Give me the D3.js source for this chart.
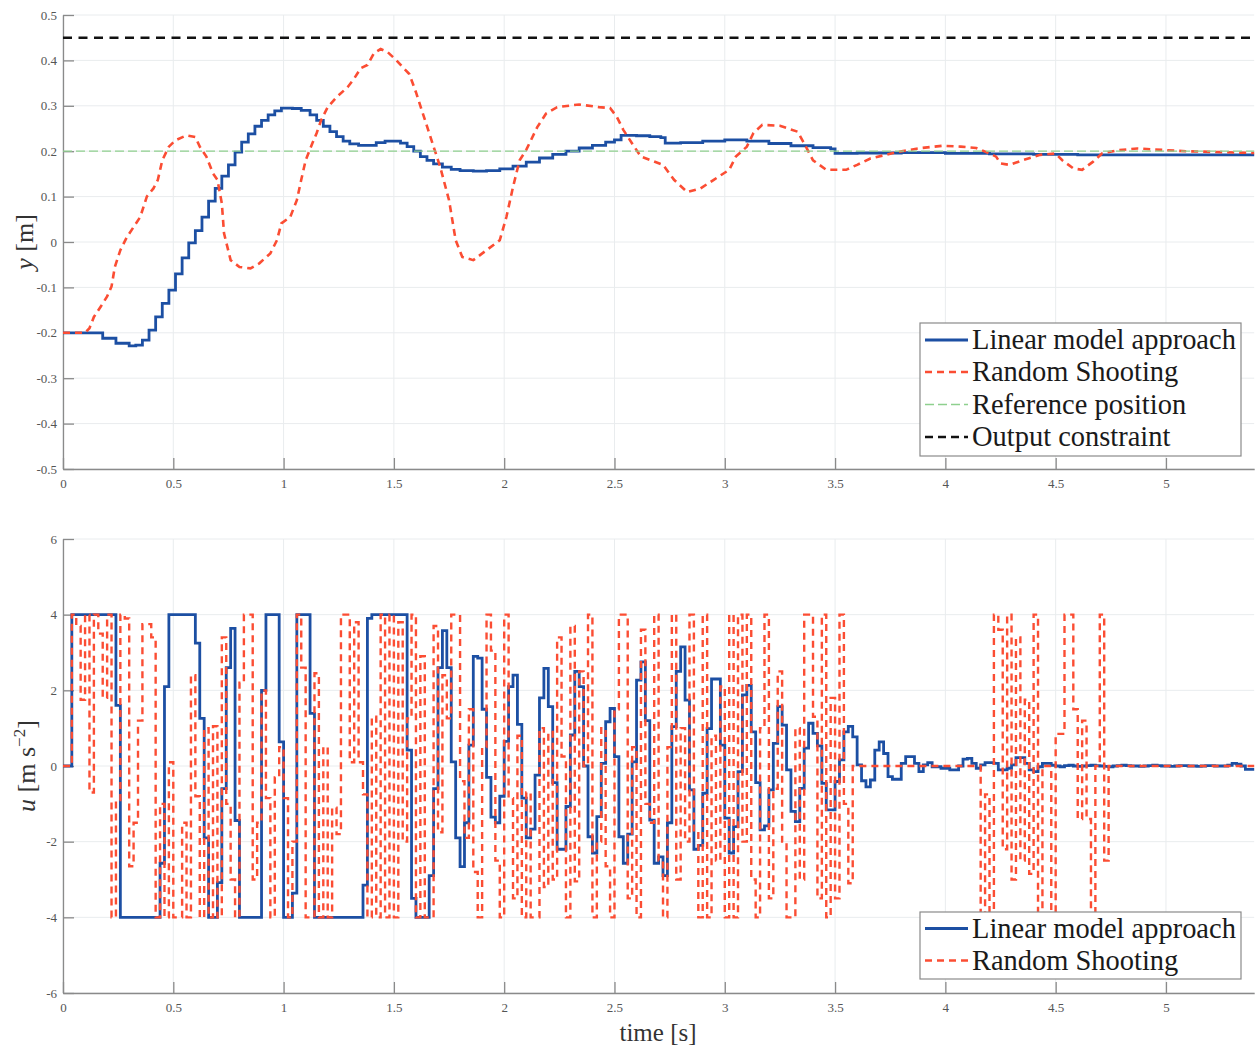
<!DOCTYPE html>
<html>
<head>
<meta charset="utf-8">
<script src="https://cdn.jsdelivr.net/npm/d3@7"></script>
<style>
  body { margin: 0; background: #ffffff; }
  svg { display: block; }
</style>
</head>
<body>
<svg id="chart" width="1257" height="1047"></svg>
<script>
// ---------------- DATA ----------------
// time axis
const xTicks = [0, 0.5, 1, 1.5, 2, 2.5, 3, 3.5, 4, 4.5, 5];
const xTickLabels = ["0", "0.5", "1", "1.5", "2", "2.5", "3", "3.5", "4", "4.5", "5"];
const tMax = 5.4;

// top subplot (output y)
const yTicks = [-0.5, -0.4, -0.3, -0.2, -0.1, 0, 0.1, 0.2, 0.3, 0.4, 0.5];
const yTickLabels = ["-0.5", "-0.4", "-0.3", "-0.2", "-0.1", "0", "0.1", "0.2", "0.3", "0.4", "0.5"];
const yReference = 0.2;
const yConstraint = 0.45;

// Linear model approach, y(t)
const yLinTime = [0, 0.06, 0.12, 0.18, 0.24, 0.30, 0.33, 0.36, 0.39, 0.42, 0.45, 0.48, 0.51, 0.54, 0.57,
  0.60, 0.63, 0.66, 0.69, 0.72, 0.75, 0.78, 0.81, 0.84, 0.87, 0.90, 0.93, 0.96, 0.99, 1.04, 1.08,
  1.12, 1.15, 1.18, 1.21, 1.24, 1.27, 1.30, 1.34, 1.38, 1.42, 1.46, 1.50, 1.53, 1.56, 1.59, 1.62,
  1.65, 1.68, 1.72, 1.76, 1.80, 1.86, 1.92, 1.98, 2.04, 2.10, 2.16, 2.22, 2.28, 2.34, 2.40, 2.46,
  2.50, 2.53, 2.60, 2.66, 2.71, 2.73, 2.80, 2.90, 3.00, 3.10, 3.20, 3.30, 3.40, 3.48, 3.50, 3.60,
  3.80, 4.00, 4.20, 4.40, 4.60, 5.40];
const yLinValue = [-0.2, -0.2, -0.2, -0.212, -0.223, -0.229, -0.227, -0.216, -0.194, -0.165, -0.135, -0.106, -0.07, -0.035, -0.002,
  0.025, 0.055, 0.09, 0.118, 0.145, 0.17, 0.198, 0.22, 0.238, 0.255, 0.268, 0.28, 0.289, 0.295, 0.294, 0.29,
  0.28, 0.268, 0.255, 0.243, 0.232, 0.222, 0.216, 0.213, 0.213, 0.219, 0.222, 0.222, 0.218, 0.21, 0.2, 0.188,
  0.18, 0.172, 0.165, 0.16, 0.157, 0.156, 0.157, 0.161, 0.167, 0.176, 0.185, 0.193, 0.2, 0.207, 0.213, 0.22,
  0.225, 0.235, 0.234, 0.232, 0.23, 0.218, 0.219, 0.222, 0.225, 0.222, 0.217, 0.212, 0.208, 0.205, 0.195, 0.196,
  0.197, 0.195, 0.194, 0.193, 0.192, 0.192];

// Random Shooting, y(t)
const yRsTime = [0, 0.1, 0.12, 0.14, 0.17, 0.2, 0.22, 0.235, 0.26, 0.29, 0.32, 0.35, 0.38, 0.41, 0.43, 0.45,
  0.48, 0.51, 0.56, 0.6, 0.62, 0.65, 0.68, 0.7, 0.72, 0.73, 0.76, 0.8, 0.85, 0.89, 0.94, 0.97, 0.99,
  1.03, 1.06, 1.08, 1.10, 1.13, 1.15, 1.17, 1.2, 1.24, 1.29, 1.32, 1.35, 1.38, 1.41, 1.44, 1.47, 1.51,
  1.54, 1.57, 1.60, 1.62, 1.66, 1.71, 1.75, 1.78, 1.81, 1.86, 1.92, 1.98, 2.01, 2.04, 2.07, 2.10, 2.15,
  2.19, 2.24, 2.34, 2.43, 2.48, 2.51, 2.54, 2.58, 2.62, 2.66, 2.72, 2.77, 2.83, 2.89, 2.95, 3.02, 3.05,
  3.10, 3.13, 3.17, 3.25, 3.33, 3.36, 3.40, 3.46, 3.55, 3.6, 3.66, 3.73, 3.79, 3.89, 3.99, 4.07, 4.14,
  4.2, 4.23, 4.25, 4.29, 4.35, 4.43, 4.5, 4.53, 4.58, 4.62, 4.67, 4.71, 4.78, 4.87, 4.94, 5.09, 5.4];
const yRsValue = [-0.2, -0.2, -0.19, -0.165, -0.143, -0.12, -0.098, -0.055, -0.018, 0.011, 0.033, 0.055, 0.1, 0.118, 0.137, 0.18,
  0.21, 0.224, 0.235, 0.231, 0.21, 0.188, 0.151, 0.137, 0.085, 0.019, -0.04, -0.055, -0.058, -0.047, -0.025, 0.004, 0.041,
  0.055, 0.092, 0.137, 0.18, 0.217, 0.24, 0.268, 0.297, 0.319, 0.341, 0.36, 0.383, 0.39, 0.416, 0.425, 0.419, 0.401,
  0.385, 0.37, 0.33, 0.3, 0.24, 0.165, 0.092, 0.004, -0.033, -0.04, -0.018, 0.004, 0.055, 0.121, 0.18, 0.203, 0.253,
  0.283, 0.297, 0.303, 0.297, 0.295, 0.276, 0.247, 0.217, 0.188, 0.181, 0.17, 0.137, 0.11, 0.118, 0.137, 0.159, 0.188,
  0.21, 0.24, 0.258, 0.256, 0.243, 0.217, 0.18, 0.159, 0.159, 0.17, 0.184, 0.192, 0.199, 0.207, 0.212, 0.21, 0.207,
  0.195, 0.188, 0.173, 0.17, 0.18, 0.192, 0.195, 0.18, 0.162, 0.159, 0.177, 0.195, 0.202, 0.206, 0.204, 0.2, 0.196];

// bottom subplot (input u), sampled every uStep seconds, held between samples
const uTicks = [-6, -4, -2, 0, 2, 4, 6];
const uTickLabels = ["-6", "-4", "-2", "0", "2", "4", "6"];
const uStep = 0.02;
const uLinear = [
  0, 0, 4, 4, 4, 4, 4, 4, 4, 4,
  4, 4, 1.6, -4, -4, -4, -4, -4, -4, -4,
  -4, -4, -2.57, 2.1, 4, 4, 4, 4, 4, 4,
  3.25, 1.26, -1.9, -4, -4, -3.08, -0.6, 2.6, 3.64, -1.44,
  -4, -4, -4, -4, -4, 2.0, 4, 4, 4, 0.64,
  -4, -4, -3.36, 4, 4, 4, 1.39, -4, -4, -4,
  -4, -4, -4, -4, -4, -4, -4, -4, -3.15, 3.9,
  4, 4, 4, 4, 4, 4, 4, 4, 0.42, -3.5,
  -4, -4, -4, -2.9, -0.6, 2.6, 3.58, 2.6, 0.11, -1.9,
  -2.66, -1.5, 0.55, 2.9, 2.85, 1.5, -0.3, -1.35, -1.5, -0.8,
  0.65, 2.1, 2.4, 1.1, -0.85, -1.9, -1.67, -0.24, 1.8, 2.58,
  1.57, -0.44, -2.2, -2.2, -1.07, 0.82, 2.5, 2.1, 0, -1.87,
  -2.3, -1.34, 0.07, 1.17, 1.52, 0.25, -1.87, -2.57, -1.8, 0.11,
  2.27, 2.75, 1.2, -1.43, -2.57, -2.4, -2.9, -1.5, 1.04, 2.5,
  3.15, 1.74, -0.63, -2.2, -2.1, -0.72, 0.99, 2.3, 2.3, 0.55,
  -1.38, -2.3, -1.6, -0.15, 1.88, 2.13, 0.9, -0.44, -1.69, -1.58,
  -0.63, 0.6, 1.57, 1.08, -0.1, -1.2, -1.47, -0.59, 0.47, 1.13,
  0.86, 0.53, -0.46, -1.16, -1.16, -0.41, 0.16, 0.9, 1.05, 0.77,
  0.03, -0.39, -0.55, -0.37, 0.42, 0.64, 0.33, -0.28, -0.35, -0.35,
  0.07, 0.25, 0.25, 0.07, -0.15, 0.03, 0.09, -0.02, -0.02, -0.06,
  -0.06, -0.1, -0.1, 0, 0.18, 0.2, 0.07, -0.06, 0.03, 0.09,
  0.09, 0.07, -0.1, -0.1, -0.06, 0.03, 0.22, 0.22, 0.07, -0.1,
  -0.15, -0.02, 0.07, 0.07, 0.02, 0, -0.02, 0.01, 0.02, 0,
  -0.01, 0, 0.01, 0.02, 0.01, 0, -0.01, -0.02, 0, 0.01,
  0.02, 0.01, 0, 0, -0.01, 0, 0.01, 0.02, 0.01, 0,
  0, -0.01, 0, 0.01, 0.01, 0, 0, -0.01, 0, 0.01,
  0.01, 0, 0, 0, 0.02, 0.07, 0.05, 0, -0.09, -0.09
];
const uRandom = [
  0, 0, 4, 3.7, 1.75, 4, -0.7, 4, 3.5, 1.8,
  4, -4, -0.9, 4, 3.9, -2.65, -1.5, 1.2, 3.75, 3.75,
  3.4, -4, -1.0, -4, 0.1, -4, -4, -1.5, -4, 2.4,
  -0.8, -4, 1.0, -4, 1.05, -4, 3.4, -1.0, -3.0, -4,
  2.2, 4, 4, -3.0, -1.5, 2.0, -0.85, -4, -0.3, 0.5,
  -0.85, -4, -2.0, 4, 2.6, -4, -4, 2.45, -4, 0.5,
  -4, -1.1, -1.8, 4, 4, 0.1, 3.8, 0.1, -0.75, -4,
  1.3, -4, 4, -4, 4, -4, 3.8, -2.0, 1.26, 4,
  -4, 2.9, -4, -4, 3.7, -1.75, 2.4, 1.26, 4, 4,
  -0.4, -1.9, 1.5, -2.8, -4, 0.5, 4, 3.05, -2.5, -4,
  4, -0.85, -3.5, 0.8, -4, -0.7, -4, -4, 1.0, -3.2,
  0.9, -3.0, 3.4, 0.25, -4, 3.7, -3.05, 2.5, 0, 4,
  -4, -2.0, 1.0, -2.65, -4, 1.5, 4, 4, -3.5, 0.5,
  -4, 3.6, -1.0, -1.5, 4, -2.5, -4, 0.5, 4, -3.0,
  1.0, -2.0, 4, -1.7, -4, 4, -4, 0.8, -2.5, 2.1,
  -4, 4, -4, 4, -2.0, 4, -3.0, -4, 1.0, 4,
  -3.5, -0.6, 2.5, -2.0, -4, -4, 1.0, -3.0, 4, 4,
  1.3, -3.5, 4, -4, 1.8, -3.5, 4, -1.0, -3.1, 0,
  0, 0, 0, 0, 0, 0, 0, 0, 0, 0,
  0, 0, 0, 0, 0, 0, 0, 0, 0, 0,
  0, 0, 0, 0, 0, 0, 0, 0, -4, -0.75,
  -4, 4, 3.6, -2.2, 4, -3.0, 3.4, -2.5, 1.75, -2.85,
  4, -4, 0, 0, -4, 0.85, 0.85, 4, 4, 1.5,
  -1.4, 1.2, -1.4, -4, 0, 4, -2.5, 0, 0, 0,
  0, 0, 0, 0, 0, 0, 0, 0, 0, 0,
  0, 0, 0, 0, 0, 0, 0, 0, 0, 0,
  0, 0, 0, 0, 0, 0, 0, 0, 0, 0
];

const seriesNames = ["Linear model approach", "Random Shooting", "Reference position", "Output constraint"];

// ---------------- LAYOUT / STYLE ----------------
const COL_BLUE = "#1c4fa3";
const COL_RED = "#fb4d33";
const COL_GREEN = "#8ed08e";
const COL_BLACK = "#111111";
const COL_AXIS = "#8a8a8a";
const COL_GRID = "#e9ecee";
const COL_TICKTXT = "#555555";
const FONT = "'Liberation Serif', 'DejaVu Serif', serif";

const svg = d3.select("#chart");
const plotLeft = 63, plotRight = 1254.2;
const x = d3.scaleLinear().domain([0, tMax]).range([plotLeft, plotRight]);
const yTop = d3.scaleLinear().domain([-0.5, 0.5]).range([469, 15]);
const yBot = d3.scaleLinear().domain([-6, 6]).range([993, 539]);

function drawAxes(yScale, yT, yL, bottomY, topY) {
  const g = svg.append("g");
  // grid
  g.selectAll(".gx").data(xTicks).enter().append("line")
    .attr("x1", d => x(d)).attr("x2", d => x(d))
    .attr("y1", topY).attr("y2", bottomY)
    .attr("stroke", COL_GRID).attr("stroke-width", 1);
  g.selectAll(".gy").data(yT).enter().append("line")
    .attr("x1", plotLeft).attr("x2", plotRight)
    .attr("y1", d => yScale(d)).attr("y2", d => yScale(d))
    .attr("stroke", COL_GRID).attr("stroke-width", 1);
  // axis lines via d3 axes (ticks inward)
  const ax = d3.axisBottom(x).tickValues(xTicks).tickFormat((d, i) => xTickLabels[i])
    .tickSizeInner(-11).tickSizeOuter(0).tickPadding(15);
  const gx = g.append("g").attr("transform", `translate(0,${bottomY})`).call(ax);
  const ay = d3.axisLeft(yScale).tickValues(yT).tickFormat((d, i) => yL[i])
    .tickSizeInner(-11).tickSizeOuter(0).tickPadding(6);
  const gy = g.append("g").attr("transform", `translate(${plotLeft},0)`).call(ay);
  [gx, gy].forEach(a => {
    a.select(".domain").attr("stroke", COL_AXIS).attr("stroke-width", 1.3);
    a.selectAll(".tick line").attr("stroke", COL_AXIS).attr("stroke-width", 1.3);
    a.selectAll(".tick text").attr("fill", COL_TICKTXT).attr("font-family", FONT).attr("font-size", 13);
  });
  gx.selectAll(".tick text").attr("dy", "0.3em");
  return g;
}

drawAxes(yTop, yTicks, yTickLabels, 469, 15);
drawAxes(yBot, uTicks, uTickLabels, 993, 539);

// clip paths
const defs = svg.append("defs");
defs.append("clipPath").attr("id", "clipTop").append("rect")
  .attr("x", plotLeft).attr("y", 12).attr("width", plotRight - plotLeft + 3).attr("height", 460);
defs.append("clipPath").attr("id", "clipBot").append("rect")
  .attr("x", plotLeft).attr("y", 536).attr("width", plotRight - plotLeft + 3).attr("height", 460);

// ---------------- TOP SUBPLOT ----------------
const topG = svg.append("g").attr("clip-path", "url(#clipTop)");
const linTop = yLinTime.map((t, i) => [t, yLinValue[i]]);
const rsTop = yRsTime.map((t, i) => [t, yRsValue[i]]);

topG.append("path").datum(linTop)
  .attr("d", d3.line().x(d => x(d[0])).y(d => yTop(d[1])).curve(d3.curveStepAfter))
  .attr("fill", "none").attr("stroke", COL_BLUE).attr("stroke-width", 2.8);
topG.append("path").datum(rsTop)
  .attr("d", d3.line().x(d => x(d[0])).y(d => yTop(d[1])))
  .attr("fill", "none").attr("stroke", COL_RED).attr("stroke-width", 2.6)
  .attr("stroke-dasharray", "7,5");
topG.append("line")
  .attr("x1", x(0)).attr("x2", x(tMax))
  .attr("y1", yTop(yReference)).attr("y2", yTop(yReference))
  .attr("stroke", COL_GREEN).attr("stroke-width", 1.3).attr("stroke-dasharray", "9,4");
topG.append("line")
  .attr("x1", x(0)).attr("x2", x(tMax))
  .attr("y1", yTop(yConstraint)).attr("y2", yTop(yConstraint))
  .attr("stroke", COL_BLACK).attr("stroke-width", 2.6).attr("stroke-dasharray", "9,6.5");

// ---------------- BOTTOM SUBPLOT ----------------
const botG = svg.append("g").attr("clip-path", "url(#clipBot)");
function stepData(arr) {
  const pts = arr.map((v, i) => [i * uStep, v]);
  pts.push([tMax, arr[arr.length - 1]]);
  return pts;
}
const uLine = d3.line().x(d => x(d[0])).y(d => yBot(d[1])).curve(d3.curveStepAfter);
botG.append("path").datum(stepData(uLinear)).attr("d", uLine)
  .attr("fill", "none").attr("stroke", COL_BLUE).attr("stroke-width", 2.8);
botG.append("path").datum(stepData(uRandom)).attr("d", uLine)
  .attr("fill", "none").attr("stroke", COL_RED).attr("stroke-width", 2.4)
  .attr("stroke-dasharray", "7,5");

// ---------------- LABELS ----------------
svg.append("text")
  .attr("transform", `translate(33,${yTop(0)}) rotate(-90)`)
  .attr("text-anchor", "middle").attr("font-family", FONT).attr("font-size", 26).attr("fill", "#333")
  .call(t => {
    t.append("tspan").attr("font-style", "italic").text("y");
    t.append("tspan").text(" [m]");
  });
svg.append("text")
  .attr("transform", `translate(35,${yBot(0)}) rotate(-90)`)
  .attr("text-anchor", "middle").attr("font-family", FONT).attr("font-size", 26).attr("fill", "#333")
  .call(t => {
    t.append("tspan").attr("font-style", "italic").text("u");
    t.append("tspan").text(" [m s");
    t.append("tspan").attr("font-size", 17).attr("dy", -10).text("\u22122");
    t.append("tspan").attr("dy", 10).text("]");
  });
svg.append("text")
  .attr("x", 658).attr("y", 1041)
  .attr("text-anchor", "middle").attr("font-family", FONT).attr("font-size", 25).attr("fill", "#333")
  .text("time [s]");

// ---------------- LEGENDS ----------------
const legendStyles = [
  { color: COL_BLUE, width: 2.8, dash: null },
  { color: COL_RED, width: 2.6, dash: "7,5" },
  { color: COL_GREEN, width: 1.5, dash: "9,4" },
  { color: COL_BLACK, width: 2.6, dash: "8,5" }
];

function legend(x0, y0, w, h, names, rowY) {
  const g = svg.append("g");
  g.append("rect").attr("x", x0).attr("y", y0).attr("width", w).attr("height", h)
    .attr("fill", "#ffffff").attr("stroke", "#8a8a8a").attr("stroke-width", 1.2);
  const probe = g.append("text").attr("font-family", FONT).attr("font-size", 100).text(names[0]);
  const len = probe.node().getComputedTextLength();
  probe.remove();
  const fs = 100 * 264 / len;
  names.forEach((n, i) => {
    const s = legendStyles[i];
    const yy = rowY[i];
    const ln = g.append("line").attr("x1", x0 + 5).attr("x2", x0 + 48)
      .attr("y1", yy).attr("y2", yy)
      .attr("stroke", s.color).attr("stroke-width", s.width);
    if (s.dash) ln.attr("stroke-dasharray", s.dash);
    g.append("text").attr("x", x0 + 52).attr("y", yy).attr("dy", "0.33em")
      .attr("font-family", FONT).attr("font-size", fs).attr("fill", "#1a1a1a").text(n);
  });
}
legend(920, 323, 321, 133, seriesNames, [340, 372, 404.5, 437]);
legend(920, 912, 321, 67, seriesNames.slice(0, 2), [928.5, 960.5]);
</script>
</body>
</html>
